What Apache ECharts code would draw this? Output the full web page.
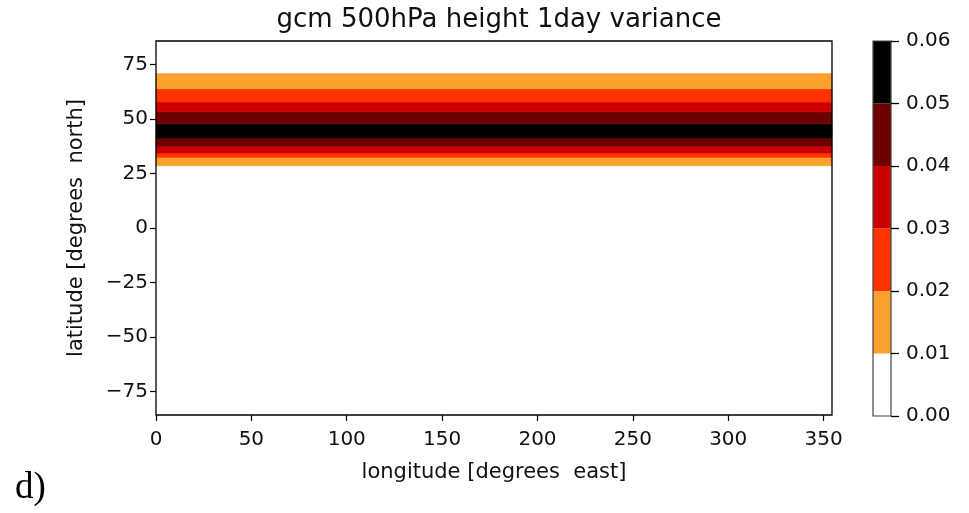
<!DOCTYPE html>
<html>
<head>
<meta charset="utf-8">
<script src="https://cdn.jsdelivr.net/npm/echarts@6/dist/echarts.min.js"></script>
<style>
  html, body { margin: 0; padding: 0; background: #fff; }
  #chart { width: 969px; height: 513px; }
</style>
</head>
<body>
<div id="chart"></div>
<script>
// zonal 1-day variance of 500hPa height, banded like contourf
var lonRange = [0, 354.4];
var latRange = [-85.7, 85.7];
// latitude edges of the filled bands (south -> north)
var latEdges = [-85.7, 28.5, 32.3, 34.3, 37.4, 41.3, 47.8, 53.4, 57.7, 63.8, 71.0, 85.7];
// variance inside each band
var bandValues = [0.005, 0.015, 0.025, 0.035, 0.045, 0.055, 0.045, 0.035, 0.025, 0.015, 0.005];

var latTicks = [-75, -50, -25, 0, 25, 50, 75];
var lonTicks = [0, 50, 100, 150, 200, 250, 300, 350];
var levels = [0, 0.01, 0.02, 0.03, 0.04, 0.05, 0.06];
var levelColors = ['#ffffff', '#fda12e', '#ff3400', '#cc0000', '#6e0000', '#000000'];

var font = 'DejaVu Sans';
var txt = '#111';

function colorFor(v) {
  for (var i = 0; i < levels.length - 1; i++) {
    if (v >= levels[i] && v < levels[i + 1]) return levelColors[i];
  }
  return levelColors[levelColors.length - 1];
}

function minus(v) {
  return String(v).replace('-', '\u2212');
}

var bandData = [];
for (var i = 0; i < bandValues.length; i++) {
  bandData.push([lonRange[0], latEdges[i], lonRange[1], latEdges[i + 1], bandValues[i]]);
}

var cbData = [];
for (var j = 0; j < levelColors.length; j++) {
  cbData.push([0, levels[j], 1, levels[j + 1], j]);
}

var chart = echarts.init(document.getElementById('chart'));

var option = {
  backgroundColor: '#fff',
  animation: false,
  title: {
    text: 'gcm 500hPa height 1day variance',
    left: 494, top: 2, textAlign: 'center',
    textStyle: { fontFamily: font, fontSize: 26, fontWeight: 'normal', color: txt }
  },
  grid: [
    { left: 156, top: 41, width: 676, height: 374, show: true, borderColor: '#000', borderWidth: 1.3, backgroundColor: 'transparent', z: 10 },
    { left: 873, top: 41, width: 18, height: 375, show: true, borderColor: '#444', borderWidth: 1.2, backgroundColor: 'transparent', z: 10 }
  ],
  xAxis: [
    {
      gridIndex: 0, type: 'value', min: lonRange[0], max: lonRange[1],
      name: 'longitude [degrees  east]', nameLocation: 'middle', nameGap: 47,
      nameTextStyle: { fontFamily: font, fontSize: 21, color: txt },
      axisLine: { show: false, onZero: false },
      axisTick: { show: true, length: 6, customValues: lonTicks, lineStyle: { color: '#000', width: 1.2 } },
      axisLabel: { customValues: lonTicks, fontFamily: font, fontSize: 20, color: txt, margin: 15 },
      splitLine: { show: false }
    },
    {
      gridIndex: 1, type: 'value', min: 0, max: 1, show: false,
      axisLine: { onZero: false }
    }
  ],
  yAxis: [
    {
      gridIndex: 0, type: 'value', min: latRange[0], max: latRange[1],
      name: 'latitude [degrees  north]', nameLocation: 'middle', nameGap: 69, nameRotate: 90,
      nameTextStyle: { fontFamily: font, fontSize: 21, color: txt },
      axisLine: { show: false, onZero: false },
      axisTick: { show: true, length: 6, customValues: latTicks, lineStyle: { color: '#000', width: 1.2 } },
      axisLabel: { customValues: latTicks, formatter: minus, fontFamily: font, fontSize: 20, color: txt, margin: 8 },
      splitLine: { show: false }
    },
    {
      gridIndex: 1, type: 'value', min: levels[0], max: levels[levels.length - 1], interval: 0.01,
      position: 'right', z: 20,
      axisLine: { show: false, onZero: false },
      axisTick: { show: true, inside: false, length: 8, lineStyle: { color: '#000', width: 1.3 } },
      axisLabel: { formatter: function (v) { return v.toFixed(2); }, fontFamily: font, fontSize: 20, color: txt, margin: 15 },
      splitLine: { show: false }
    }
  ],
  graphic: [
    {
      type: 'text', left: 15, top: 470,
      style: { text: 'd)', fontFamily: 'Liberation Serif', fontSize: 37, fill: '#000' }
    }
  ],
  series: [
    {
      type: 'custom',
      xAxisIndex: 0, yAxisIndex: 0,
      encode: { x: [0, 2], y: [1, 3] },
      data: bandData,
      renderItem: function (params, api) {
        var p0 = api.coord([api.value(0), api.value(3)]);
        var p1 = api.coord([api.value(2), api.value(1)]);
        return {
          type: 'rect',
          shape: { x: p0[0], y: p0[1], width: p1[0] - p0[0], height: p1[1] - p0[1] },
          style: { fill: colorFor(api.value(4)), stroke: colorFor(api.value(4)), lineWidth: 0.5 }
        };
      }
    },
    {
      type: 'custom',
      xAxisIndex: 1, yAxisIndex: 1,
      encode: { x: [0, 2], y: [1, 3] },
      data: cbData,
      renderItem: function (params, api) {
        var p0 = api.coord([api.value(0), api.value(3)]);
        var p1 = api.coord([api.value(2), api.value(1)]);
        var c = levelColors[api.value(4)];
        return {
          type: 'rect',
          shape: { x: p0[0], y: p0[1], width: p1[0] - p0[0], height: p1[1] - p0[1] },
          style: { fill: c }
        };
      }
    }
  ]
};

chart.setOption(option);
</script>
</body>
</html>
